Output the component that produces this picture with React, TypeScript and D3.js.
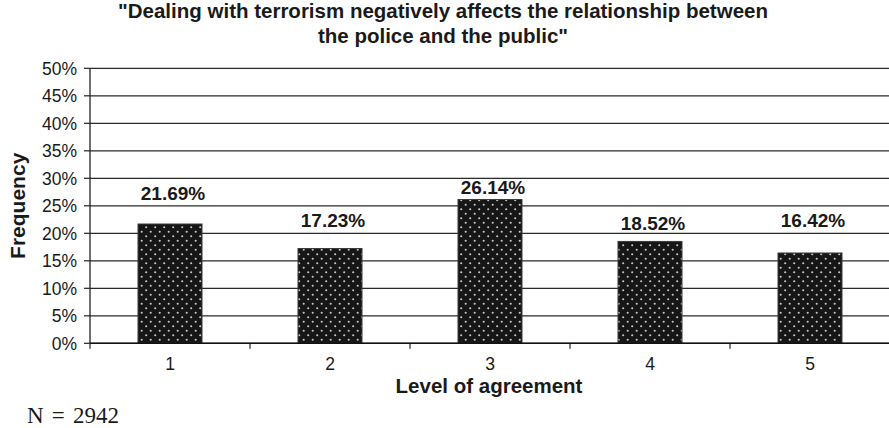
import React from "react";
import * as d3 from "d3";

// Survey responses: share of respondents at each level of agreement
const categories: string[] = ["1", "2", "3", "4", "5"];
const frequencies: number[] = [21.69, 17.23, 26.14, 18.52, 16.42];
const yTicks: number[] = [0, 5, 10, 15, 20, 25, 30, 35, 40, 45, 50];
const titleLines: string[] = [
  "\"Dealing with terrorism negatively affects the relationship between",
  "the police and the public\"",
];
const sampleNote = "N = 2942";

// Per-label vertical lift above each bar top (px)
const labelLift: number[] = [24, 22, 5.5, 11.5, 26];

const W = 889;
const H = 428;
const plot = { left: 90, right: 890, top: 68.3, bottom: 343.3 };
const sans = "'Liberation Sans', Arial, Helvetica, sans-serif";

export default function App() {
  const x = d3
    .scaleBand<string>()
    .domain(categories)
    .range([plot.left, plot.right])
    .paddingInner(0.6)
    .paddingOuter(0.3);
  const y = d3.scaleLinear().domain([0, 50]).range([plot.bottom, plot.top]);
  const step = x.step();
  const boundaries = d3.range(categories.length + 1).map((i) => plot.left + i * step);

  return (
    <div style={{ position: "absolute", left: 0, top: 0, width: W, height: H, background: "#fff" }}>
      <svg width={W} height={H} viewBox={`0 0 ${W} ${H}`}>
        <defs>
          <pattern id="dots" width={9} height={9} patternUnits="userSpaceOnUse">
            <rect width={9} height={9} fill="#161616" />
            <circle cx={2.2} cy={2.2} r={1.05} fill="#c8c8c8" />
            <circle cx={6.7} cy={6.7} r={1.05} fill="#c8c8c8" />
          </pattern>
        </defs>

        {/* title */}
        <g fontFamily={sans} fontWeight="bold" fontSize={20.5} fill="#1a1a1a" textAnchor="middle">
          {titleLines.map((t, i) => (
            <text key={i} x={443} y={18 + i * 25}>
              {t}
            </text>
          ))}
        </g>

        {/* horizontal gridlines */}
        {yTicks.map((t) => (
          <line
            key={t}
            x1={plot.left}
            x2={W}
            y1={y(t)}
            y2={y(t)}
            stroke="#2a2a2a"
            strokeWidth={1.2}
          />
        ))}

        {/* bars */}
        {frequencies.map((v, i) => (
          <rect
            key={categories[i]}
            x={x(categories[i])}
            y={y(v)}
            width={x.bandwidth()}
            height={y(0) - y(v)}
            fill="url(#dots)"
            stroke="#3a3a3a"
            strokeWidth={1}
          />
        ))}

        {/* value labels */}
        <g fontFamily={sans} fontWeight="bold" fontSize={19} fill="#1a1a1a" textAnchor="middle">
          {frequencies.map((v, i) => (
            <text
              key={categories[i]}
              x={(x(categories[i]) as number) + x.bandwidth() / 2 + 3}
              y={y(v) - labelLift[i]}
            >
              {v.toFixed(2)}%
            </text>
          ))}
        </g>

        {/* y axis */}
        <line x1={plot.left} x2={plot.left} y1={plot.top} y2={plot.bottom} stroke="#222" strokeWidth={1.3} />
        <g fontFamily={sans} fontSize={17.5} fill="#1a1a1a" textAnchor="end">
          {yTicks.map((t) => (
            <g key={t}>
              <line x1={plot.left - 6} x2={plot.left} y1={y(t)} y2={y(t)} stroke="#222" strokeWidth={1.2} />
              <text x={77} y={y(t) + 6.3}>
                {t}%
              </text>
            </g>
          ))}
        </g>

        {/* x axis */}
        <line x1={plot.left} x2={W} y1={plot.bottom} y2={plot.bottom} stroke="#111" strokeWidth={1.5} />
        {boundaries.map((b, i) => (
          <line key={i} x1={b} x2={b} y1={plot.bottom} y2={plot.bottom + 5.5} stroke="#222" strokeWidth={1.2} />
        ))}
        <g fontFamily={sans} fontSize={17.5} fill="#1a1a1a" textAnchor="middle">
          {categories.map((c) => (
            <text key={c} x={(x(c) as number) + x.bandwidth() / 2} y={369.5}>
              {c}
            </text>
          ))}
        </g>

        {/* axis titles */}
        <text x={489} y={392.5} fontFamily={sans} fontWeight="bold" fontSize={20.5} fill="#1a1a1a" textAnchor="middle">
          Level of agreement
        </text>
        <text
          transform={`translate(25, ${(plot.top + plot.bottom) / 2}) rotate(-90)`}
          fontFamily={sans}
          fontWeight="bold"
          fontSize={21}
          fill="#1a1a1a"
          textAnchor="middle"
        >
          Frequency
        </text>

        {/* sample size */}
        <text
          x={27}
          y={422.5}
          fontFamily="'Liberation Serif', 'Times New Roman', serif"
          fontSize={23}
          wordSpacing={2.5}
          fill="#1a1a1a"
        >
          {sampleNote}
        </text>
      </svg>
    </div>
  );
}
